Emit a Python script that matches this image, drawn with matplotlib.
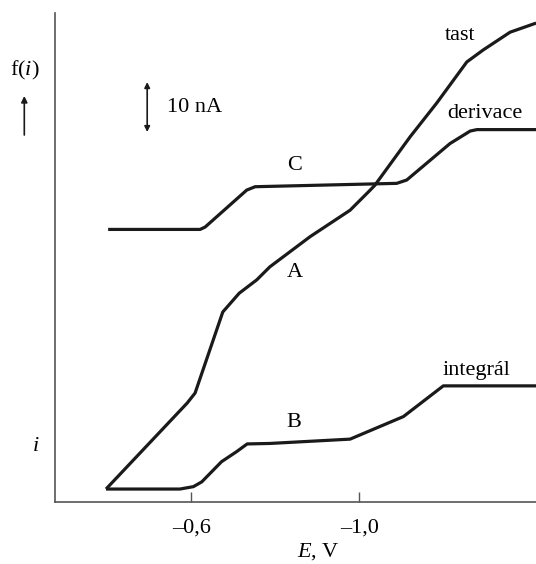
import numpy as np
import matplotlib
matplotlib.use('Agg')
import matplotlib.pyplot as plt

plt.rcParams['font.family'] = 'Liberation Serif'
plt.rcParams['mathtext.fontset'] = 'custom'
plt.rcParams['mathtext.rm'] = 'Liberation Serif'
plt.rcParams['mathtext.it'] = 'Liberation Serif:italic'

# Potenciál E (V) a proud (nA) pro jednotlivé záznamy
E_tast = [-0.397, -0.590, -0.609, -0.675, -0.714, -0.756, -0.787, -0.883, -0.978,
          -1.026, -1.037, -1.121, -1.184, -1.256, -1.295, -1.359, -1.421]
I_tast = [2.7, 20.6, 22.7, 39.6, 43.5, 46.3, 49.0, 55.3, 60.8,
          65.0, 66.0, 76.1, 83.1, 91.7, 94.2, 97.9, 99.8]

E_der = [-0.402, -0.621, -0.633, -0.732, -0.752, -1.089, -1.113, -1.216, -1.264, -1.280, -1.421]
I_der = [56.8, 56.8, 57.3, 65.0, 65.7, 66.4, 67.1, 74.7, 77.3, 77.6, 77.6]

E_int = [-0.397, -0.573, -0.605, -0.625, -0.672, -0.708, -0.733, -0.787, -0.978, -1.105, -1.200, -1.421]
I_int = [2.7, 2.7, 3.2, 4.2, 8.4, 10.5, 12.1, 12.2, 13.1, 17.8, 24.2, 24.2]

ticks = [-0.6, -1.0]
tick_labels = ['\u20130,6', '\u20131,0']

fig = plt.figure(figsize=(5.36, 5.64), dpi=100)
ax = fig.add_axes([55 / 536, 62 / 564, 481 / 536, 489 / 564])

for E, I in [(E_tast, I_tast), (E_der, I_der), (E_int, I_int)]:
    ax.plot(E, I, color='#1a1a1a', lw=2.3, solid_joinstyle='round', solid_capstyle='butt')

ax.set_xlim(-0.2755, -1.4207)
ax.set_ylim(0, 101.9)

for s in ['top', 'right']:
    ax.spines[s].set_visible(False)
for s in ['left', 'bottom']:
    ax.spines[s].set_color('#555555')
    ax.spines[s].set_linewidth(1.2)

ax.set_yticks([])
ax.set_xticks(ticks)
ax.set_xticklabels(tick_labels, fontsize=16)
ax.tick_params(axis='x', direction='in', length=7, width=1, color='#555555', pad=12)

# popisky křivek
fs = 16
ax.text(-1.240, 97.3, 'tast', fontsize=fs, ha='center', va='center')
ax.text(-1.299, 81.0, 'derivace', fontsize=fs, ha='center', va='center')
ax.text(-0.847, 70.2, 'C', fontsize=fs, ha='center', va='center')
ax.text(-0.847, 47.9, 'A', fontsize=fs, ha='center', va='center')
ax.text(-0.845, 16.5, 'B', fontsize=fs, ha='center', va='center')
ax.text(-1.278, 27.5, 'integrál', fontsize=fs, ha='center', va='center')

# měřítko 10 nA
ax.annotate('', xy=(-0.495, 87.5), xytext=(-0.495, 77.1),
            arrowprops=dict(arrowstyle='<|-|>', color='#1a1a1a', lw=1.2,
                            mutation_scale=8, shrinkA=0, shrinkB=0))
ax.text(-0.541, 82.3, '10 nA', fontsize=fs, ha='left', va='center')

# osy
fig.text(25 / 536, 1 - 70.7 / 564, r'f($\mathit{i}$)', fontsize=fs, ha='center', va='center')
fig.patches.append(matplotlib.patches.FancyArrowPatch(
    (24.3 / 536, 1 - 135 / 564), (24.3 / 536, 1 - 96 / 564), transform=fig.transFigure,
    arrowstyle='-|>', mutation_scale=9, color='#1a1a1a', lw=1.2, shrinkA=0, shrinkB=0))
fig.text(36 / 536, 1 - 446.7 / 564, r'$\mathit{i}$', fontsize=fs, ha='center', va='center')
fig.text(318 / 536, 1 - 552 / 564, r'$\mathit{E}$, V', fontsize=fs, ha='center', va='center')

fig.savefig('out.png', dpi=100)
